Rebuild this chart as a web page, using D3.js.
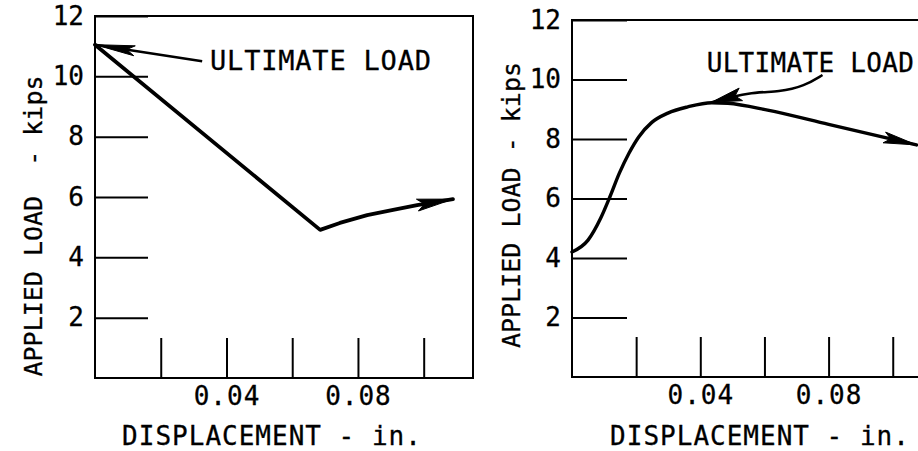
<!DOCTYPE html>
<html>
<head>
<meta charset="utf-8">
<script src="https://cdn.jsdelivr.net/npm/d3@7"></script>
<style>
  html, body { margin: 0; padding: 0; background: #fff; }
  svg { display: block; }
  text { font-family: "DejaVu Sans Mono", monospace; fill: #000; stroke: #000; stroke-width: 0.3px; }
</style>
</head>
<body>
<svg id="chart" width="918" height="451"></svg>
<script>
// ---- data ----
// Left specimen: load drops from the ultimate load, then recovers
const leftDisp = [0, 0.0685, 0.0745, 0.0828, 0.0907, 0.098, 0.1089];
const leftLoad = [11.05, 4.91, 5.14, 5.40, 5.57, 5.73, 5.93];

// Right specimen: load climbs to the ultimate load, then softens
const rightDisp = [0, 0.005, 0.009, 0.0118, 0.0148, 0.0178, 0.0208, 0.0248, 0.0299, 0.0361, 0.0436, 0.0486, 0.061, 0.080, 0.1074];
const rightLoad = [4.2, 4.6, 5.35, 6.05, 6.86, 7.53, 8.07, 8.55, 8.87, 9.08, 9.22, 9.2, 8.97, 8.49, 7.80];

// Axis ticks and labels
const xTicks = [0.02, 0.04, 0.06, 0.08, 0.10];
const xTickLabels = { 0.04: "0.04", 0.08: "0.08" };
const yTicks = [2, 4, 6, 8, 10, 12];

// Annotation texts and leader points (data units)
const annotationText = "ULTIMATE LOAD";
const leftLabelAt = [0.035, 10.21];
const leftLeader = [[0.0326, 10.5], [0, 11.05]];
const rightLabelAt = [0.042, 10.25];
const rightLeader = [[0.0781, 10.15], [0.0725, 9.78], [0.0648, 9.58], [0.0554, 9.58], [0.0436, 9.24]];

const xTitle = "DISPLACEMENT - in.";
const yTitleLeft = "APPLIED LOAD  - kips";
const yTitleRight = "APPLIED LOAD - kips";

const svg = d3.select("#chart");

// filled arrowhead with a slight notch at its base
function arrowHead(g, tip, from, len, halfW) {
  const dx = tip[0] - from[0], dy = tip[1] - from[1];
  const d = Math.hypot(dx, dy) || 1;
  const ux = dx / d, uy = dy / d, nx = -uy, ny = ux;
  const bx = tip[0] - ux * len, by = tip[1] - uy * len;
  const nxp = tip[0] - ux * len * 0.8, nyp = tip[1] - uy * len * 0.8;
  g.append("path")
    .attr("d", `M${tip[0]},${tip[1]} L${bx + nx * halfW},${by + ny * halfW} L${nxp},${nyp} L${bx - nx * halfW},${by - ny * halfW} Z`)
    .attr("fill", "#000").attr("stroke", "#000").attr("stroke-width", 1).attr("stroke-linejoin", "round");
}

function panel(opts) {
  const g = svg.append("g");
  const x = d3.scaleLinear().domain(opts.xDomain).range(opts.xRange);
  const y = d3.scaleLinear().domain([0, 12]).range(opts.yRange);
  const [x0, x1] = opts.xRange, [yb, yt] = opts.yRange;

  // frame
  const frame = opts.closed
    ? `M${x0},${yt} L${x1},${yt} L${x1},${yb} L${x0},${yb} Z`
    : `M${x1},${yt} L${x0},${yt} L${x0},${yb} L${x1},${yb}`;
  g.append("path").attr("d", frame).attr("fill", "none").attr("stroke", "#000").attr("stroke-width", 2);

  // inward ticks
  const yAxis = d3.axisLeft(y).tickValues(yTicks).tickSize(-opts.yTickLen).tickPadding(11).tickFormat(d3.format("d"));
  const ya = g.append("g").attr("transform", `translate(${x0},0)`).call(yAxis);
  const xAxis = d3.axisBottom(x).tickValues(xTicks).tickSize(-40).tickPadding(9)
    .tickFormat(d => xTickLabels[d] || "");
  const xa = g.append("g").attr("transform", `translate(0,${yb})`).call(xAxis);
  [ya, xa].forEach(a => {
    a.select(".domain").remove();
    a.selectAll(".tick line").attr("stroke", "#000").attr("stroke-width", 2);
    a.selectAll(".tick text").attr("font-size", 26).attr("font-family", "DejaVu Sans Mono").attr("fill", "#000");
  });
  xa.selectAll(".tick text").attr("letter-spacing", 1);

  // titles
  g.append("text").attr("x", opts.xTitleX).attr("y", 445).attr("text-anchor", "middle")
    .attr("font-size", 26).attr("letter-spacing", 1).text(xTitle);
  g.append("text").attr("transform", `translate(${opts.yTitleX},${opts.yTitleY}) rotate(-90)`)
    .attr("text-anchor", "middle").attr("font-size", 25).style("white-space", "pre").text(opts.yTitle);

  // curve
  const pts = opts.disp.map((d, i) => [x(d), y(opts.load[i])]);
  g.append("path").attr("d", d3.line().curve(opts.curve)(pts))
    .attr("fill", "none").attr("stroke", "#000").attr("stroke-width", opts.lineW)
    .attr("stroke-linejoin", "round").attr("stroke-linecap", "round");
  arrowHead(g, pts[pts.length - 1], pts[pts.length - 2], opts.headLen, opts.headW);

  // annotation
  g.append("text").attr("x", x(opts.labelAt[0])).attr("y", y(opts.labelAt[1]))
    .attr("font-size", opts.labelSize).attr("letter-spacing", opts.labelSpacing).text(annotationText);
  const lp = opts.leader.map(p => [x(p[0]), y(p[1])]);
  g.append("path").attr("d", d3.line().curve(d3.curveBasis)(lp))
    .attr("fill", "none").attr("stroke", "#000").attr("stroke-width", 2.5);
  arrowHead(g, lp[lp.length - 1], lp[lp.length - 2], opts.leadLen, opts.leadW);
}

panel({
  xDomain: [0, 0.115], xRange: [95, 473], yRange: [378, 16], closed: true,
  yTickLen: 53, xTitleX: 272, yTitleX: 42, yTitleY: 226, yTitle: yTitleLeft,
  disp: leftDisp, load: leftLoad, curve: d3.curveLinear, lineW: 3.8, headLen: 36, headW: 6,
  labelAt: leftLabelAt, leader: leftLeader, labelSize: 27, labelSpacing: 0.8, leadLen: 40, leadW: 5
});

panel({
  xDomain: [0, 0.1085], xRange: [572, 920], yRange: [377, 20], closed: false,
  yTickLen: 55, xTitleX: 760, yTitleX: 520, yTitleY: 205, yTitle: yTitleRight,
  disp: rightDisp, load: rightLoad, curve: d3.curveMonotoneX, lineW: 3.4, headLen: 33, headW: 5.5,
  labelAt: rightLabelAt, leader: rightLeader, labelSize: 26, labelSpacing: 0.3, leadLen: 30, leadW: 6.5
});
</script>
</body>
</html>
